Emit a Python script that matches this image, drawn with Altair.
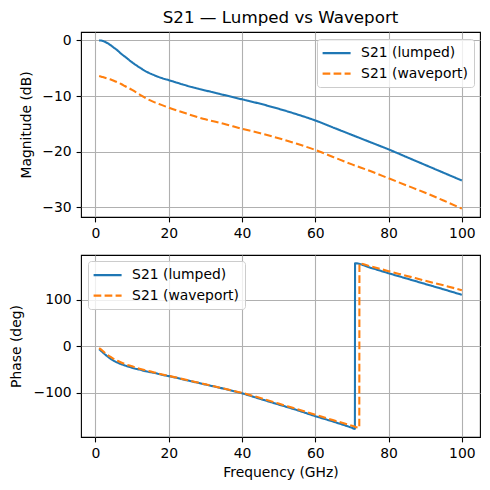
import altair as alt
import pandas as pd

SERIES = ["S21 (lumped)", "S21 (waveport)"]
COLORS = ["#1f77b4", "#ff7f0e"]
DASHES = [[1, 0], [7.7, 3.3]]
FONT = "DejaVu Sans"

# Magnitude of S21 (dB) vs frequency (GHz)
freq_mag = [1, 2, 3, 4, 5, 6, 7, 8, 10, 12, 14, 16, 18, 20, 25, 30, 35, 40,
            45, 50, 55, 60, 65, 70, 75, 80, 85, 90, 95, 100]
mag_lumped = [0.0, -0.1, -0.4, -0.8, -1.3, -1.8, -2.4, -2.9, -3.95, -4.85,
              -5.65, -6.25, -6.75, -7.15, -8.15, -9.0, -9.8, -10.6, -11.4,
              -12.3, -13.3, -14.4, -15.7, -17.0, -18.3, -19.6, -21.0, -22.4,
              -23.8, -25.2]
mag_waveport = [-6.4, -6.6, -6.8, -7.0, -7.25, -7.55, -7.85, -8.2, -8.9,
                -9.7, -10.5, -11.1, -11.6, -12.1, -13.2, -14.2, -15.0, -15.9,
                -16.7, -17.6, -18.6, -19.7, -21.0, -22.3, -23.5, -24.8, -26.1,
                -27.4, -28.8, -30.25]

# Phase of S21 (deg), wrapped to (-180, 180]
freq_ph_lumped = [1, 2, 3, 4, 5, 6, 8, 10, 12, 14, 16, 18, 20, 25, 30, 35,
                  40, 45, 50, 55, 60, 65, 70, 70.8, 70.85, 75, 80, 85, 90,
                  95, 100]
ph_lumped = [-6, -13, -20, -26, -31, -35, -41, -46, -50, -54, -57, -61, -64,
             -73, -82, -91, -101, -113, -125, -137, -150, -162, -175, -177.3,
             178.4, 169, 157, 145.5, 134, 122.5, 110.7]
freq_ph_waveport = [1, 2, 3, 4, 5, 6, 8, 10, 12, 14, 16, 18, 20, 25, 30, 35,
                    40, 45, 50, 55, 60, 65, 70, 72.0, 72.05, 75, 80, 85, 90,
                    95, 100]
ph_waveport = [-4, -10, -17, -22, -27, -31, -38, -43, -48, -52, -56, -60,
               -63.5, -72.5, -81.5, -90.5, -100, -111, -123, -135, -147,
               -159, -170.5, -175, 178, 172, 161.5, 151.3, 141, 131, 120.7]

x_ticks = [0, 20, 40, 60, 80, 100]
mag_ticks = [-30, -20, -10, 0]
ph_ticks = [-100, 0, 100]

mag_df = pd.DataFrame({
    "freq": freq_mag + freq_mag,
    "value": mag_lumped + mag_waveport,
    "series": [SERIES[0]] * len(freq_mag) + [SERIES[1]] * len(freq_mag),
})
ph_df = pd.DataFrame({
    "freq": freq_ph_lumped + freq_ph_waveport,
    "value": ph_lumped + ph_waveport,
    "series": [SERIES[0]] * len(freq_ph_lumped)
    + [SERIES[1]] * len(freq_ph_waveport),
})

PANEL_W = 399
x_scale = alt.Scale(domain=[-3.95, 104.95], nice=False, zero=False)

AXIS_STYLE = dict(
    labelFont=FONT, labelFontSize=13.9, labelColor="black",
    titleFont=FONT, titleFontSize=13.9, titleFontWeight="normal",
    titleColor="black", tickColor="black", tickSize=4.9, tickWidth=1.1,
    labelPadding=4.9, gridColor="#b0b0b0", gridWidth=1.1, gridOpacity=1,
    domain=False, labelOverlap=False,
)

# Line handle drawn 28 px long from a 14 px symbol box, so rows stay compact
HANDLE = "M-2,0H2"


def make_legend(x, y):
    return alt.Legend(
        title=None, orient="none", legendX=x, legendY=y,
        symbolType=HANDLE, symbolSize=196, symbolStrokeWidth=2.1,
        symbolOffset=5.5, labelOffset=16,
        labelFont=FONT, labelFontSize=13.9, labelColor="black",
        padding=5.6, rowPadding=4.5,
        strokeColor="#cccccc", fillColor="rgba(255,255,255,0.8)",
        cornerRadius=3,
    )


def panel(df, ydomain, yticks, ytitle, xtitle, legend, title_x, h):
    x_axis = alt.Axis(values=x_ticks, title=xtitle, labelFlush=False,
                      titlePadding=5, **AXIS_STYLE)
    y_axis = alt.Axis(
        values=yticks, title=ytitle, titleX=title_x, titleY=h / 2,
        titleBaseline="middle", titleAlign="center",
        labelExpr="replace(datum.label, '-', '\u2212')", **AXIS_STYLE,
    )
    return alt.Chart(df).mark_line(strokeWidth=2.08, interpolate="monotone").encode(
        x=alt.X("freq:Q", scale=x_scale, axis=x_axis),
        y=alt.Y("value:Q", scale=alt.Scale(domain=ydomain, nice=False, zero=False),
                axis=y_axis),
        color=alt.Color("series:N", scale=alt.Scale(domain=SERIES, range=COLORS),
                        legend=legend),
        strokeDash=alt.StrokeDash("series:N",
                                  scale=alt.Scale(domain=SERIES, range=DASHES),
                                  legend=legend),
    ).properties(width=PANEL_W, height=h)


top = panel(mag_df, [-31.76, 1.51], mag_ticks, "Magnitude (dB)", None,
            make_legend(236, 7), -55, 185)
bottom = panel(ph_df, [-194.8, 196.2], ph_ticks, "Phase (deg)",
               "Frequency (GHz)", make_legend(7, 6), -65, 182)

chart = alt.vconcat(
    top, bottom, spacing=38, bounds="flush",
    title=alt.TitleParams("S21 \u2014 Lumped vs Waveport", font=FONT,
                          fontSize=16.7, fontWeight="normal", color="black",
                          anchor="middle", frame="group", offset=5),
).resolve_legend(color="independent", strokeDash="independent").properties(
    padding={"left": 8, "top": 9, "right": 5, "bottom": 5},
    background="white",
).configure_view(stroke="black", strokeWidth=1.1)

chart.save("out.html", embed_options={"renderer": "svg", "actions": False})
